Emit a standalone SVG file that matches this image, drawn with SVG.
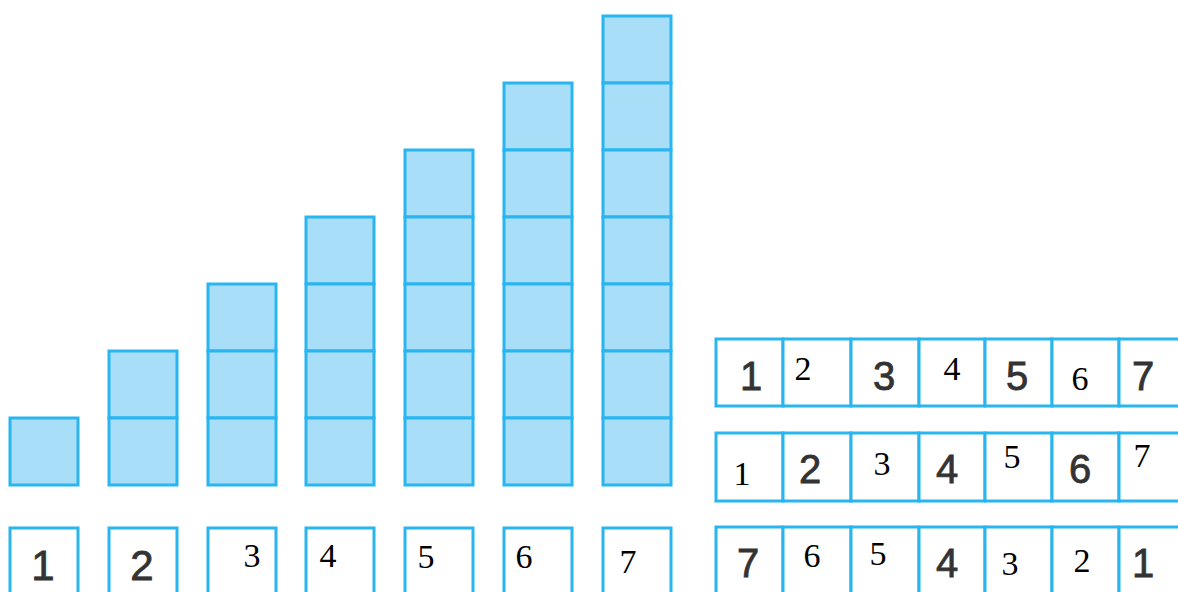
<svg xmlns="http://www.w3.org/2000/svg" width="1178" height="592" viewBox="0 0 1178 592">
<style>
.c{fill:#a9def8;stroke:#29b5ef;stroke-width:3}
.b{fill:#ffffff;stroke:#29b5ef;stroke-width:3}
.s{font-family:"Liberation Sans",Arial,sans-serif;fill:#333333;stroke:#333333;stroke-width:0.8;text-anchor:middle}
.r{font-family:"Liberation Serif","Times New Roman",serif;fill:#000000;text-anchor:middle;font-size:34px}
.sl{font-size:42px}
.sr{font-size:40px}
</style>
<rect width="1178" height="592" fill="#ffffff"/>
<g id="column1"><rect class="c" x="10" y="418" width="68" height="67"/></g>
<g id="column2"><rect class="c" x="109" y="351" width="68" height="67"/><rect class="c" x="109" y="418" width="68" height="67"/></g>
<g id="column3"><rect class="c" x="208" y="284" width="68" height="67"/><rect class="c" x="208" y="351" width="68" height="67"/><rect class="c" x="208" y="418" width="68" height="67"/></g>
<g id="column4"><rect class="c" x="306" y="217" width="68" height="67"/><rect class="c" x="306" y="284" width="68" height="67"/><rect class="c" x="306" y="351" width="68" height="67"/><rect class="c" x="306" y="418" width="68" height="67"/></g>
<g id="column5"><rect class="c" x="405" y="150" width="68" height="67"/><rect class="c" x="405" y="217" width="68" height="67"/><rect class="c" x="405" y="284" width="68" height="67"/><rect class="c" x="405" y="351" width="68" height="67"/><rect class="c" x="405" y="418" width="68" height="67"/></g>
<g id="column6"><rect class="c" x="504" y="83" width="68" height="67"/><rect class="c" x="504" y="150" width="68" height="67"/><rect class="c" x="504" y="217" width="68" height="67"/><rect class="c" x="504" y="284" width="68" height="67"/><rect class="c" x="504" y="351" width="68" height="67"/><rect class="c" x="504" y="418" width="68" height="67"/></g>
<g id="column7"><rect class="c" x="603" y="16" width="68" height="67"/><rect class="c" x="603" y="83" width="68" height="67"/><rect class="c" x="603" y="150" width="68" height="67"/><rect class="c" x="603" y="217" width="68" height="67"/><rect class="c" x="603" y="284" width="68" height="67"/><rect class="c" x="603" y="351" width="68" height="67"/><rect class="c" x="603" y="418" width="68" height="67"/></g>

<g id="label1"><rect class="b" x="10" y="528" width="68" height="70"/><text class="s sl" x="43" y="580">1</text></g>
<g id="label2"><rect class="b" x="109" y="528" width="68" height="70"/><text class="s sl" x="142" y="580">2</text></g>
<g id="label3"><rect class="b" x="208" y="528" width="68" height="70"/><text class="r" x="252" y="567">3</text></g>
<g id="label4"><rect class="b" x="306" y="528" width="68" height="70"/><text class="r" x="328" y="567">4</text></g>
<g id="label5"><rect class="b" x="405" y="528" width="68" height="70"/><text class="r" x="426" y="568">5</text></g>
<g id="label6"><rect class="b" x="504" y="528" width="68" height="70"/><text class="r" x="524" y="568">6</text></g>
<g id="label7"><rect class="b" x="603" y="528" width="68" height="70"/><text class="r" x="628" y="573">7</text></g>

<g id="row1">
<rect class="b" x="716" y="339" width="67" height="67"/><rect class="b" x="783" y="339" width="68" height="67"/><rect class="b" x="851" y="339" width="68" height="67"/><rect class="b" x="919" y="339" width="66" height="67"/><rect class="b" x="985" y="339" width="67" height="67"/><rect class="b" x="1052" y="339" width="67" height="67"/><rect class="b" x="1119" y="339" width="70" height="67"/>
<text class="s sr" x="751" y="390">1</text><text class="r" x="803" y="380">2</text><text class="s sr" x="884" y="390">3</text><text class="r" x="952" y="380">4</text><text class="s sr" x="1017" y="390">5</text><text class="r" x="1080" y="390">6</text><text class="s sr" x="1143" y="390">7</text>
</g>
<g id="row2">
<rect class="b" x="716" y="433" width="67" height="68"/><rect class="b" x="783" y="433" width="68" height="68"/><rect class="b" x="851" y="433" width="68" height="68"/><rect class="b" x="919" y="433" width="66" height="68"/><rect class="b" x="985" y="433" width="67" height="68"/><rect class="b" x="1052" y="433" width="67" height="68"/><rect class="b" x="1119" y="433" width="70" height="68"/>
<text class="r" x="742" y="485">1</text><text class="s sr" x="810" y="483">2</text><text class="r" x="882" y="475">3</text><text class="s sr" x="947" y="483">4</text><text class="r" x="1012" y="468">5</text><text class="s sr" x="1080" y="483">6</text><text class="r" x="1142" y="467">7</text>
</g>
<g id="row3">
<rect class="b" x="716" y="527" width="67" height="70"/><rect class="b" x="783" y="527" width="68" height="70"/><rect class="b" x="851" y="527" width="68" height="70"/><rect class="b" x="919" y="527" width="66" height="70"/><rect class="b" x="985" y="527" width="67" height="70"/><rect class="b" x="1052" y="527" width="67" height="70"/><rect class="b" x="1119" y="527" width="70" height="70"/>
<text class="s sr" x="748" y="577">7</text><text class="r" x="812" y="567">6</text><text class="r" x="878" y="565">5</text><text class="s sr" x="947" y="577">4</text><text class="r" x="1010" y="575">3</text><text class="r" x="1082" y="572">2</text><text class="s sr" x="1143" y="577">1</text>
</g>
</svg>
